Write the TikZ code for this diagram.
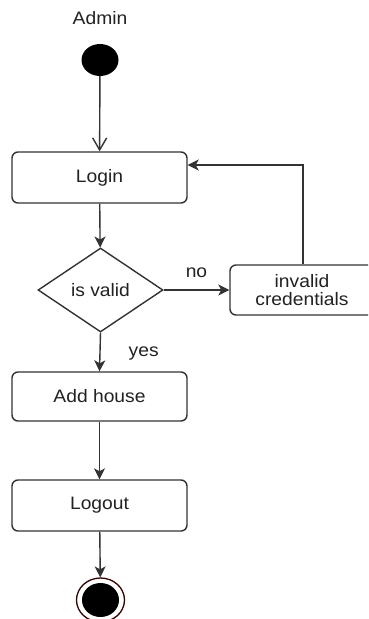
\documentclass[tikz,border=0pt]{standalone}
\usepackage{fontspec}
\setmainfont{Liberation Sans}[FakeStretch=1.07]
\usetikzlibrary{shapes.geometric,arrows.meta}
\definecolor{ln}{HTML}{333333}
\definecolor{tx}{HTML}{222222}
\tikzset{
  txt/.style={font=\fontsize{18}{21}\selectfont, text=tx, inner sep=0pt},
  act/.style={draw=ln, line width=1.4pt, rounded corners=6pt, fill=white,
    minimum width=175pt, minimum height=51pt, inner sep=0pt, align=center,
    font=\fontsize{18}{21}\selectfont, text=tx},
  dec/.style={draw=ln, line width=1.4pt, diamond, fill=white, minimum width=125pt,
    minimum height=84pt, inner sep=0pt, font=\fontsize{18}{21}\selectfont, text=tx},
  startnode/.style={ellipse, fill=black, minimum width=37pt, minimum height=32pt, inner sep=0pt},
  endouter/.style={ellipse, draw=black!80!red, line width=1.3pt, fill=white, minimum width=48pt, minimum height=44pt, inner sep=0pt},
  endinner/.style={ellipse, fill=black, minimum width=37pt, minimum height=34pt, inner sep=0pt},
  flow/.style={draw=ln, line width=1.4pt, -{Stealth[length=11pt,width=11pt,inset=3pt]}},
  openflow/.style={draw=ln, line width=1.4pt, -{Straight Barb[length=12pt,width=14pt,line width=1.4pt]}},
  lbl/.style={font=\fontsize{18}{21}\selectfont, text=tx, inner sep=0pt}
}
\begin{document}
\begin{tikzpicture}[x=1pt,y=-1pt]
\useasboundingbox (0,0) rectangle (368,619);
\clip (0,0) rectangle (368,619);
\fill[white] (0,0) rectangle (368,619);
\node[txt] (admin) at (100,18) {Admin};
\node[startnode] (start) at (100,60) {};
\node[act] (login) at (99.5,177.5) {Login};
\node[dec] (valid) at (100.5,290) {is valid};
\node[act, minimum width=144pt, minimum height=50pt] (invalid) at (302,290) {invalid\\[-3pt]credentials};
\node[act, minimum height=49pt] (add) at (99.5,396.5) {Add house};
\node[act] (logout) at (99.5,505.5) {Logout};
\node[endouter] (endo) at (100.5,600) {};
\node[endinner] (endi) at (100.5,600) {};
\coordinate (corner) at (303,165);

\draw[openflow] (start) -- (login);
\draw[flow] (login) -- (valid);
\draw[flow] (valid.east) -- node[lbl, above, yshift=12pt] {no} (invalid.west);
\draw[flow] (valid.south) -- node[lbl, right, xshift=28pt, yshift=-2pt] {yes} (add.north);
\draw[flow] (add) -- (logout);
\draw[flow] (logout) -- (endo);
\draw[flow] (invalid.north -| corner) -- (corner) -- (corner -| login.east);
\end{tikzpicture}
\end{document}
